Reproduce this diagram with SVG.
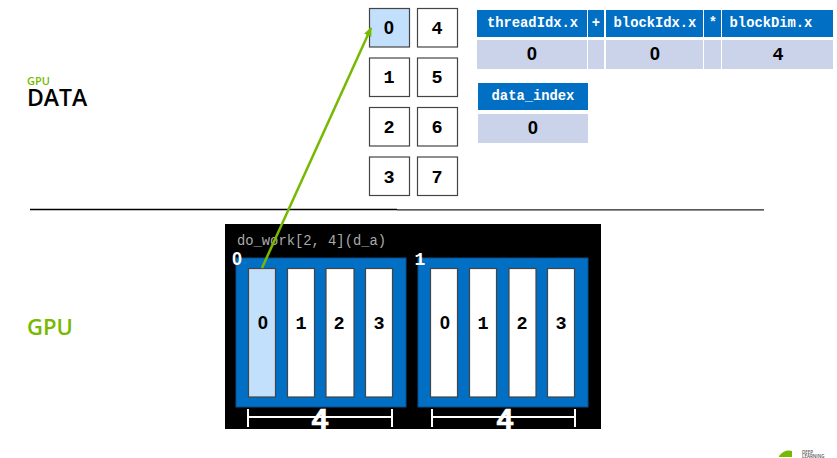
<svg xmlns="http://www.w3.org/2000/svg" width="837" height="458" viewBox="0 0 837 458">
<style>
.mono{font-family:"Liberation Mono",monospace}
.z{font-family:"Liberation Sans",sans-serif}
.sans{font-family:"Open Sans","Noto Sans",sans-serif;font-weight:600}
.cell{stroke:#444;stroke-width:1.2;fill:#fff}
.blue{fill:#c2e0fb}
.num{font-size:18.500px;font-weight:700;fill:#000;text-anchor:middle}
.hd{fill:#006fc4}
.val{fill:#cad3e9}
.ht{font-size:13.800px;font-weight:700;fill:#fff;text-anchor:middle}
.dim{font-size:30px;font-weight:700;fill:#fff;stroke:#fff;stroke-width:.6;text-anchor:middle}
.wl{stroke:#fff;stroke-width:2;fill:none}
</style>
<defs>
<marker id="ah" markerUnits="userSpaceOnUse" markerWidth="10" markerHeight="10" refX="8" refY="4" orient="auto"><path d="M0 0L9 4L0 8Z" fill="#76b900"/></marker>
</defs>
<rect width="837" height="458" fill="#fff"/>
<g id="labels">
<text class="sans" x="27" y="85" font-size="11" fill="#76b900">GPU</text>
<text class="sans" x="27" y="106" font-size="23" fill="#000">DATA</text>
<text class="sans" x="27" y="335" font-size="22" fill="#76b900">GPU</text>
</g>
<g id="divider"><path d="M30 209.500H397" stroke="#000" stroke-width="1.300"/><path d="M397 209.800H764" stroke="#222" stroke-width="1.300"/></g>
<g id="gpu-panel"><rect x="225" y="224" width="376" height="205" fill="#000"/>
<text class="mono" x="237" y="245" font-size="13.800" fill="#aaa">do_work[2, 4](d_a)</text></g>
<g id="data-cells">
<g id="d0"><rect class="cell blue" x="369.500" y="8.500" width="40" height="38.500"/><text class="z num" x="389" y="34">0</text></g>
<g id="d1"><rect class="cell" x="369.500" y="58" width="40" height="38.500"/><text class="mono num" x="389" y="83">1</text></g>
<g id="d2"><rect class="cell" x="369.500" y="107.500" width="40" height="38.500"/><text class="mono num" x="389" y="133">2</text></g>
<g id="d3"><rect class="cell" x="369.500" y="157" width="40" height="38.500"/><text class="mono num" x="389" y="183">3</text></g>
<g id="d4"><rect class="cell" x="417.500" y="8.500" width="40" height="38.500"/><text class="mono num" x="437" y="34">4</text></g>
<g id="d5"><rect class="cell" x="417.500" y="58" width="40" height="38.500"/><text class="mono num" x="437" y="83">5</text></g>
<g id="d6"><rect class="cell" x="417.500" y="107.500" width="40" height="38.500"/><text class="mono num" x="437" y="133">6</text></g>
<g id="d7"><rect class="cell" x="417.500" y="157" width="40" height="38.500"/><text class="mono num" x="437" y="183">7</text></g>
</g>
<g id="formula">
<rect class="hd" x="477" y="10" width="110" height="27"/><rect class="hd" x="588" y="10" width="16" height="27"/><rect class="hd" x="606" y="10" width="97" height="27"/><rect class="hd" x="704" y="10" width="17" height="27"/><rect class="hd" x="722" y="10" width="111" height="27"/>
<rect class="val" x="477" y="40" width="110" height="29"/><rect class="val" x="588" y="40" width="16" height="29"/><rect class="val" x="606" y="40" width="97" height="29"/><rect class="val" x="704" y="40" width="17" height="29"/><rect class="val" x="722" y="40" width="111" height="29"/>
<text class="mono ht" x="532.500" y="27">threadIdx.x</text><text class="mono ht" x="596" y="27">+</text><text class="mono ht" x="655" y="27">blockIdx.x</text><text class="mono ht" x="713" y="27">*</text><text class="mono ht" x="771" y="27">blockDim.x</text>
<text class="z num" x="532" y="60">0</text><text class="z num" x="655" y="60">0</text><text class="mono num" x="778" y="60">4</text>
</g>
<g id="data-index">
<rect class="hd" x="478" y="83" width="110" height="27"/><rect class="val" x="478" y="114" width="110" height="29"/>
<text class="mono ht" x="533" y="100">data_index</text><text class="z num" x="533" y="134">0</text>
</g>
<g id="block-0">
<rect x="236" y="258" width="170" height="149" fill="#006fc4" stroke="#0a4f8a"/>
<text class="z" x="237" y="265" font-size="18" font-weight="700" fill="#fff" text-anchor="middle">0</text>
<g id="b0t0"><rect class="cell blue" x="248.500" y="268.500" width="27" height="128.500"/><text class="z num" x="263" y="329">0</text></g>
<g id="b0t1"><rect class="cell" x="287.500" y="268.500" width="27" height="128.500"/><text class="mono num" x="301" y="329">1</text></g>
<g id="b0t2"><rect class="cell" x="326" y="268.500" width="28" height="128.500"/><text class="mono num" x="339" y="329">2</text></g>
<g id="b0t3"><rect class="cell" x="365.500" y="268.500" width="27" height="128.500"/><text class="mono num" x="379" y="329">3</text></g>
</g>
<g id="block-1">
<rect x="418" y="258" width="170" height="149" fill="#006fc4" stroke="#0a4f8a"/>
<text class="mono" x="420" y="265" font-size="18" font-weight="700" fill="#fff" text-anchor="middle">1</text>
<g id="b1t0"><rect class="cell" x="430.500" y="268.500" width="27" height="128.500"/><text class="z num" x="445" y="329">0</text></g>
<g id="b1t1"><rect class="cell" x="469.500" y="268.500" width="27" height="128.500"/><text class="mono num" x="483" y="329">1</text></g>
<g id="b1t2"><rect class="cell" x="509" y="268.500" width="27" height="128.500"/><text class="mono num" x="522" y="329">2</text></g>
<g id="b1t3"><rect class="cell" x="547.500" y="268.500" width="27" height="128.500"/><text class="mono num" x="561" y="329">3</text></g>
</g>
<g id="dims">
<path class="wl" d="M248 409V427M248 417H392M392 409V427"/>
<path class="wl" d="M432 409V427M432 417H575M575 409V427"/>
<text class="mono dim" x="320" y="429">4</text>
<text class="mono dim" x="505" y="429">4</text>
</g>
<g id="connectors"><path d="M262 268L371 28" stroke="#76b900" stroke-width="2.500" fill="none" marker-end="url(#ah)"/></g>
<g id="logo"><path d="M779 456Q785 449 792 451V457H779Z" fill="#76b900"/><text class="sans" x="802" y="453.500" font-size="4.500" fill="#555">DEEP</text><text class="sans" x="802" y="458" font-size="4.500" fill="#555">LEARNING</text></g>
</svg>
